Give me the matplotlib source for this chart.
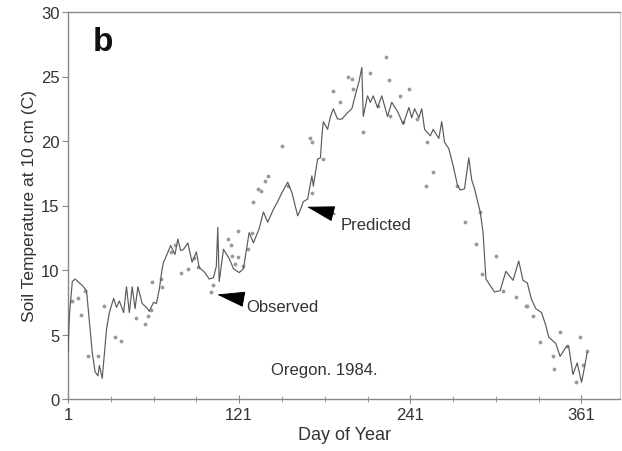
import matplotlib
matplotlib.use("Agg")
import matplotlib.pyplot as plt

plt.rcParams['font.family'] = ['Liberation Sans', 'DejaVu Sans']

# Predicted soil temperature (line)
pred_day = [1, 2, 4, 6, 8, 11, 14, 16, 18, 20, 22, 23, 25, 26, 28, 30, 33, 35, 37, 40,
            42, 44, 46, 48, 50, 53, 56, 58, 61, 63, 65, 67, 68, 70, 73, 76, 78, 80, 82, 85,
            88, 91, 93, 97, 100, 103, 105, 106, 107, 110, 114, 117, 121, 124, 128, 131, 135, 138, 141, 145,
            148, 151, 155, 158, 162, 164, 166, 169, 172, 173, 176, 178, 179, 180, 183, 185, 187, 190, 193, 197,
            200, 203, 205, 207, 208, 211, 213, 215, 218, 221, 225, 228, 232, 236, 240, 242, 244, 247, 249, 251,
            255, 257, 261, 263, 265, 268, 271, 274, 276, 279, 282, 284, 286, 290, 292, 294, 297, 300, 304, 308,
            313, 317, 320, 323, 326, 329, 333, 336, 338, 343, 346, 350, 352, 355, 358, 361, 362, 365]
pred_temp = [3.6, 6.5, 9.1, 9.3, 9.1, 8.8, 8.4, 6.0, 3.6, 2.1, 1.8, 2.6, 1.6, 2.9, 5.4, 6.7, 7.8, 7.1, 7.6, 6.7,
             8.7, 6.7, 8.7, 7.0, 8.7, 7.4, 7.1, 6.8, 7.5, 7.4, 8.5, 10.1, 10.6, 11.1, 11.9, 11.2, 12.4, 11.5, 11.6, 12.1,
             10.6, 11.4, 10.2, 9.8, 9.3, 9.4, 10.3, 13.3, 9.1, 11.6, 10.9, 10.1, 9.8, 10.1, 12.9, 12.1, 13.2, 14.5, 13.7, 14.7,
             15.3, 16.0, 16.8, 16.0, 14.2, 14.7, 15.3, 15.5, 17.3, 16.5, 18.6, 18.7, 20.4, 21.5, 20.9, 21.9, 22.5, 21.7, 21.7, 22.2,
             22.5, 23.8, 24.6, 25.7, 21.9, 23.5, 23.0, 23.5, 22.6, 23.5, 21.9, 23.0, 22.3, 21.3, 22.6, 21.8, 22.5, 21.8, 22.5, 20.9,
             20.4, 20.9, 20.2, 21.5, 19.9, 19.4, 18.1, 16.6, 16.2, 16.3, 18.7, 17.0, 16.3, 14.5, 12.9, 9.3, 8.8, 8.3, 8.4, 9.9,
             9.2, 10.7, 9.2, 9.0, 7.7, 7.0, 6.7, 5.7, 4.8, 4.3, 3.3, 4.0, 4.1, 1.9, 2.8, 1.3, 1.8, 3.6]

# Observed soil temperature (points)
obs_day = [4, 8, 10, 13, 15, 22, 26, 34, 38, 49, 55, 57, 59, 60, 66, 67,
           73, 76, 80, 85, 89, 92, 101, 103, 113, 115, 116, 118, 120, 120, 124, 127, 130, 131, 134, 136, 139, 141,
           151, 155, 171, 172, 172, 180, 187, 192, 197, 200, 201, 208, 213, 218, 224, 226, 227, 234, 236, 240, 246,
           252, 253, 257, 274, 279, 287, 290, 291, 301, 306, 315, 322, 323, 327, 332, 341, 342, 346, 351, 357, 360, 362, 365]
obs_temp = [7.6, 7.8, 6.5, 8.4, 3.3, 3.3, 7.2, 4.8, 4.5, 6.3, 5.8, 6.4, 6.9, 9.1, 9.3, 8.7,
            11.4, 11.9, 9.8, 10.1, 10.9, 10.2, 8.3, 8.8, 12.4, 11.9, 11.1, 10.5, 11.0, 13.0, 10.3, 11.6, 12.9, 15.3, 16.3, 16.1, 16.9, 17.3,
            19.6, 16.5, 20.2, 19.9, 16.0, 18.6, 23.9, 23.0, 25.0, 24.8, 24.0, 20.7, 25.3, 22.7, 26.5, 24.7, 21.9, 23.5, 21.5, 24.0, 21.7,
            16.5, 19.9, 17.6, 16.5, 13.7, 12.0, 14.5, 9.7, 11.1, 8.4, 7.9, 7.2, 7.2, 6.4, 4.4, 3.3, 2.3, 5.2, 4.1, 1.3, 4.8, 2.6, 3.7]

major_ticks = [1, 121, 241, 361]
minor_ticks = [31, 61, 91, 151, 181, 211, 271, 301, 331]
y_ticks = [0, 5, 10, 15, 20, 25, 30]

fig = plt.figure(figsize=(6.22, 4.52), dpi=100)
ax = fig.add_axes([68 / 622, 1 - 400 / 452, 552 / 622, 387 / 452])

ax.plot(pred_day, pred_temp, color='#5a5a5a', lw=0.85, zorder=3)
ax.plot(obs_day, obs_temp, ls='none', marker='.', ms=3.5, color='#9a9a9a', zorder=2)

ax.set_xlim(1, 388)
ax.set_ylim(0, 30)
ax.set_xticks(major_ticks)
ax.set_xticks(minor_ticks, minor=True)
ax.set_yticks(y_ticks)

for s in ['left', 'bottom', 'top']:
    ax.spines[s].set_color('#888888')
    ax.spines[s].set_linewidth(1.0)
ax.spines['right'].set_color('#cccccc')
ax.spines['right'].set_linewidth(0.8)

ax.tick_params(axis='y', direction='out', length=4, color='#888888', labelsize=12, labelcolor='#333333', pad=2)
ax.tick_params(axis='x', which='major', direction='inout', length=6, color='#888888', labelsize=12, labelcolor='#333333', pad=3)
ax.tick_params(axis='x', which='minor', direction='inout', length=5, color='#888888')

ax.set_xlabel('Day of Year', fontsize=13, color='#333333', labelpad=3)
ax.set_ylabel('Soil Temperature at 10 cm (C)', fontsize=12.5, color='#333333', labelpad=3)

ax.text(0.045, 0.925, 'b', transform=ax.transAxes, fontsize=24, fontweight='bold',
        ha='left', va='center', color='#111111')

ax.annotate('Predicted', xy=(168.5, 14.9), xytext=(192, 13.5), fontsize=12, color='#333333',
            va='center', ha='left',
            arrowprops=dict(arrowstyle='-|>,head_length=1.5,head_width=0.42', color='black', lw=0.7,
                            shrinkA=2, shrinkB=0))
ax.annotate('Observed', xy=(105.5, 8.1), xytext=(126, 7.2), fontsize=12, color='#333333',
            va='center', ha='left',
            arrowprops=dict(arrowstyle='-|>,head_length=1.5,head_width=0.42', color='black', lw=0.7,
                            shrinkA=2, shrinkB=0))
ax.text(181, 2.3, 'Oregon. 1984.', fontsize=12, color='#333333', ha='center', va='center')

fig.savefig('out.png', dpi=100)
